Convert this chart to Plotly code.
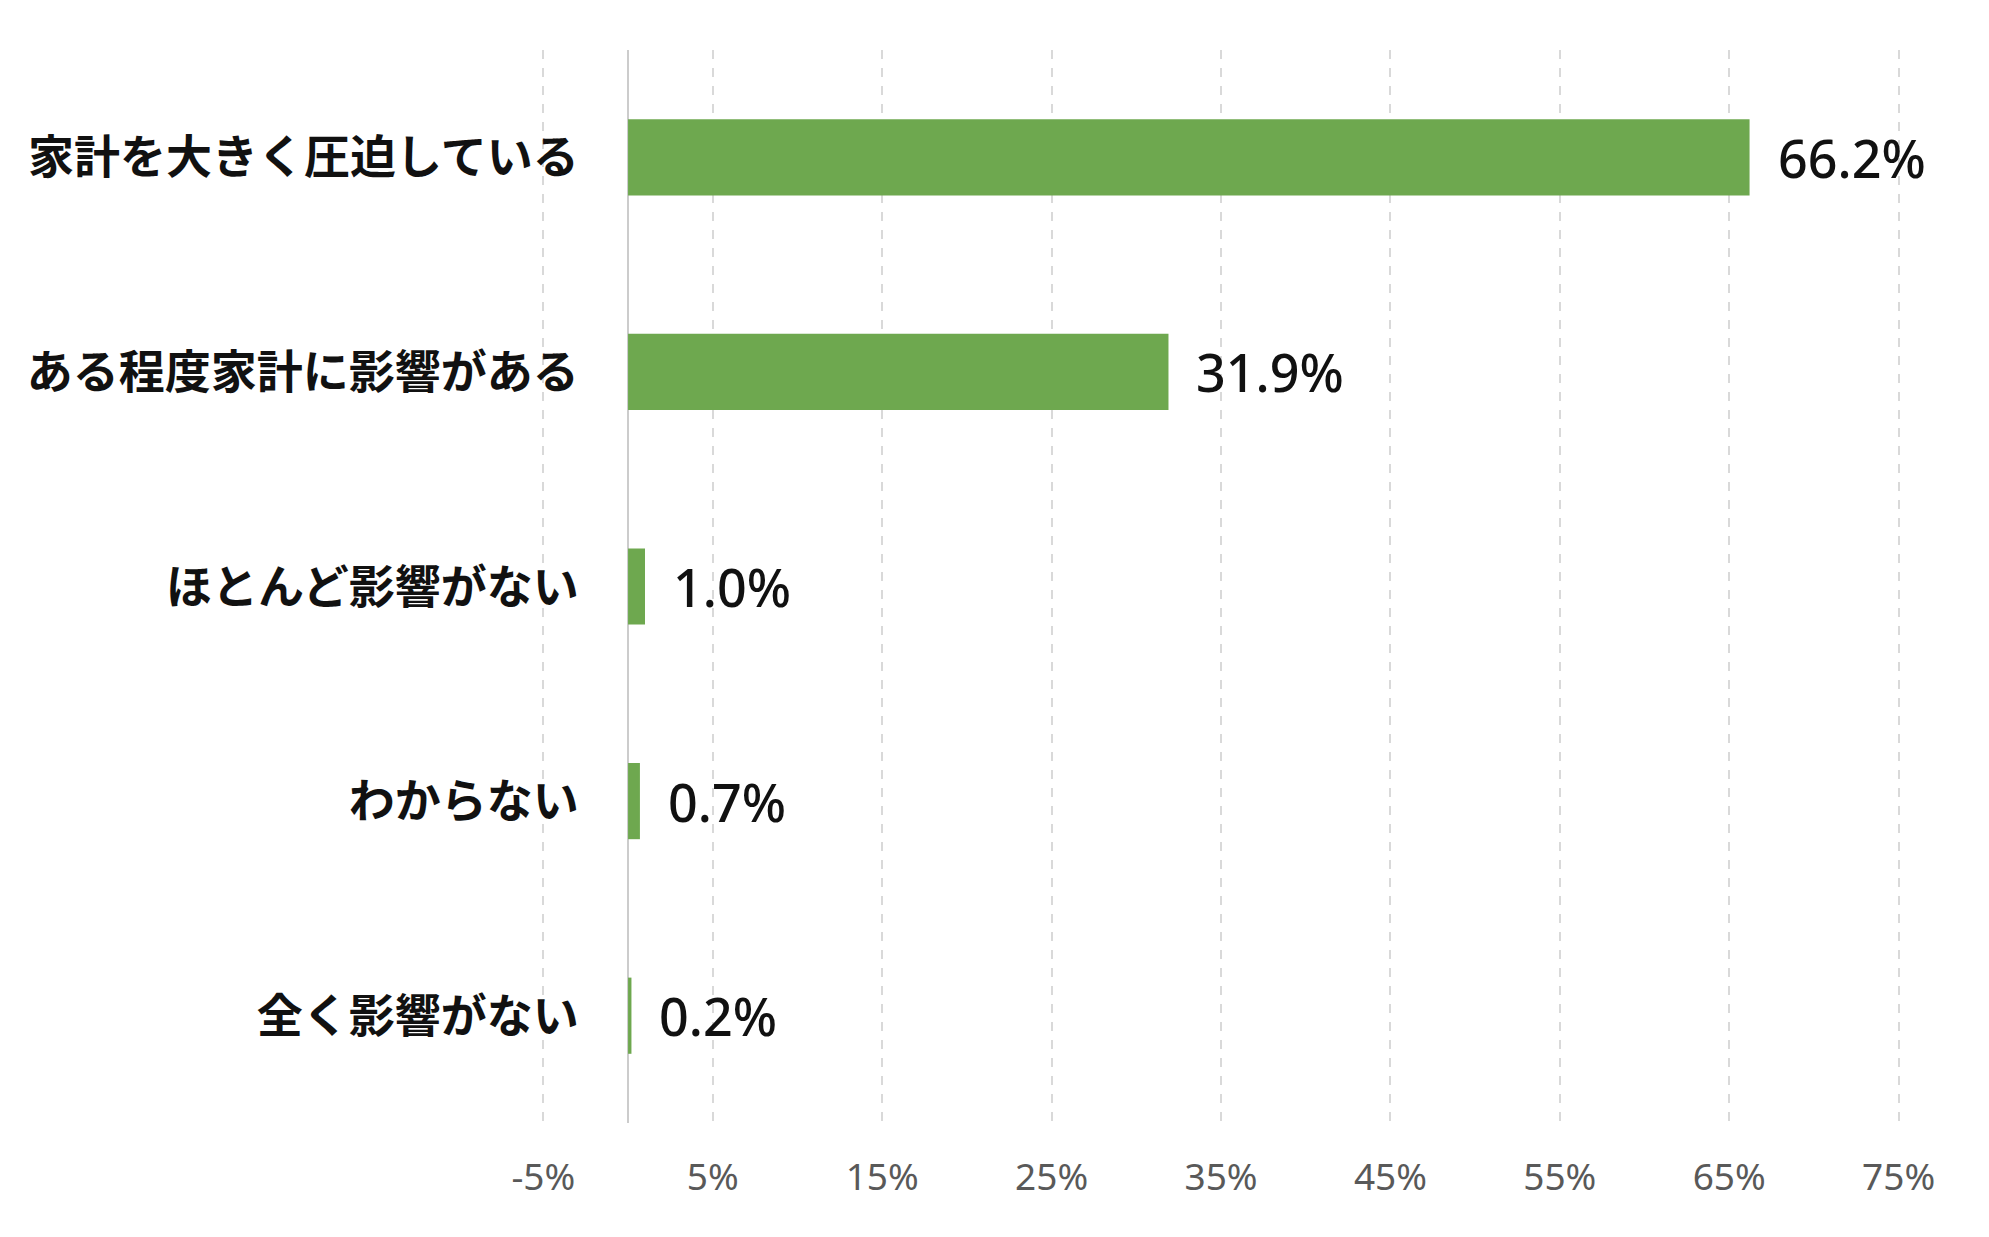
import plotly.graph_objects as go

categories = ["家計を大きく圧迫している", "ある程度家計に影響がある", "ほとんど影響がない", "わからない", "全く影響がない"]
values = [66.2, 31.9, 1.0, 0.7, 0.2]
tick_vals = [-5, 5, 15, 25, 35, 45, 55, 65, 75]
tick_text = ["-5%", "5%", "15%", "25%", "35%", "45%", "55%", "65%", "75%"]

fig = go.Figure(go.Bar(
    x=values, y=categories, orientation="h",
    marker=dict(color="#6EA84F", line=dict(width=0)),
    width=0.355,
))

# value labels just right of each bar
for v, c in zip(values, categories):
    fig.add_annotation(x=v, y=c, text=f"{v:.1f}%", showarrow=False,
                       xanchor="left", yanchor="middle", xshift=26,
                       font=dict(family="Noto Sans", size=52, color="#111111", weight=500))

fig.update_layout(
    width=1989, height=1237,
    margin=dict(l=534, r=97, t=42, b=122),
    plot_bgcolor="white", paper_bgcolor="white",
    showlegend=False,
    xaxis=dict(range=[-5.08, 75.08], tickvals=tick_vals, ticktext=tick_text,
               showgrid=True, gridcolor="#d9d9d9", griddash="dash", gridwidth=1.5,
               zeroline=True, zerolinecolor="#cccccc", zerolinewidth=2,
               showline=False, ticklabelstandoff=29,
               tickfont=dict(family="Noto Sans", size=37, color="#595959")),
    yaxis=dict(autorange="reversed", anchor="free", position=0.027,
               showgrid=False, showline=False, ticks="",
               tickfont=dict(family="Noto Sans CJK JP", size=46, color="#111111", weight="bold")),
)

fig.write_html("out.html")
